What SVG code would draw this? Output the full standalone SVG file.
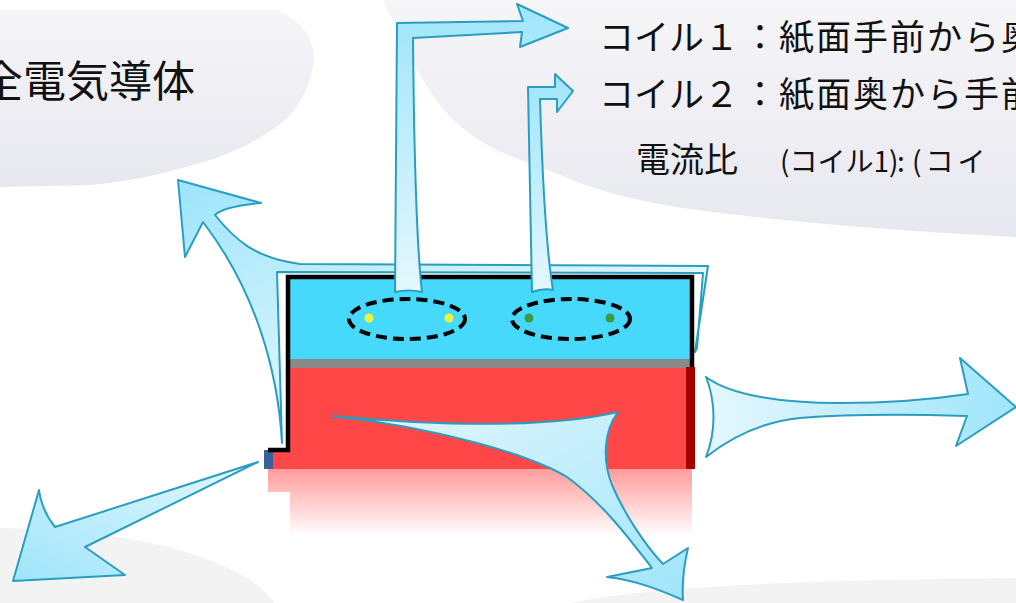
<svg xmlns="http://www.w3.org/2000/svg" width="1016" height="603" viewBox="0 0 1016 603">
  <defs>
    <linearGradient id="blobFill" x1="0" y1="0" x2="0" y2="1">
      <stop offset="0" stop-color="#f6f6f8"/>
      <stop offset="1" stop-color="#e7e7ef"/>
    </linearGradient>
    <linearGradient id="flowUp" x1="0" y1="1" x2="0" y2="0">
      <stop offset="0" stop-color="#e4f7fd"/>
      <stop offset="1" stop-color="#a0e5fb"/>
    </linearGradient>
    <linearGradient id="flowRight" x1="0" y1="0" x2="1" y2="0">
      <stop offset="0" stop-color="#e4f7fd"/>
      <stop offset="1" stop-color="#a0e5fb"/>
    </linearGradient>
    <linearGradient id="flowDownRight" x1="0" y1="0" x2="1" y2="1">
      <stop offset="0" stop-color="#e4f7fd"/>
      <stop offset="1" stop-color="#a0e5fb"/>
    </linearGradient>
    <linearGradient id="flowDownLeft" x1="1" y1="0" x2="0" y2="1">
      <stop offset="0" stop-color="#e4f7fd"/>
      <stop offset="1" stop-color="#a0e5fb"/>
    </linearGradient>
    <linearGradient id="flowUpLeft" gradientUnits="userSpaceOnUse" x1="282" y1="440" x2="185" y2="190">
      <stop offset="0" stop-color="#e4f7fd"/>
      <stop offset="1" stop-color="#a0e5fb"/>
    </linearGradient>
    <linearGradient id="fade" x1="0" y1="0" x2="0" y2="1">
      <stop offset="0" stop-color="#ff9c9c"/>
      <stop offset="1" stop-color="#ffffff"/>
    </linearGradient>
    <style>
      .blob { fill: url(#blobFill); }
      .floor { fill: #f3f3f3; }
      .flow { stroke: #2a9ebf; stroke-width: 2; stroke-linejoin: round; }
      .coil { fill: none; stroke: #000; stroke-width: 4; stroke-dasharray: 11 6; }
      .label { font-family: "Noto Sans CJK JP", "Noto Sans", sans-serif; fill: #111; }
    </style>
  </defs>

  <rect width="1016" height="603" fill="#ffffff"/>

  <!-- background callout shapes -->
  <g id="backdrop">
    <path class="blob" d="M0,10 H278 C305,22 318,45 313,67 C306,100 290,120 267,133 C245,148 220,157 200,163 C160,175 125,182 90,185 L0,187 Z"/>
    <path class="blob" d="M383,0 C395,25 402,45 413,63 C427,88 440,108 457,123 C475,140 495,150 513,157 C530,164 545,169 553,172 C565,177 575,181 580,183 C620,198 670,207 720,213 C820,225 920,232 1016,237 V0 Z"/>
    <ellipse class="floor" cx="0" cy="625" rx="282" ry="97"/>
    <path class="floor" d="M570,603 C640,588 780,580 1016,578 V603 Z"/>
  </g>

  <!-- labels -->
  <g id="conductor-label">
    <text class="label" x="-20" y="97" font-size="43">全電気導体</text>
  </g>
  <g id="coil-legend">
    <text class="label" x="599" y="50" font-size="35">コイル１<tspan x="760" text-anchor="middle">：</tspan><tspan x="779" letter-spacing="2">紙面手前から奥</tspan></text>
    <text class="label" x="599" y="107" font-size="35">コイル２<tspan x="760" text-anchor="middle">：</tspan><tspan x="779" letter-spacing="2">紙面奥から手前</tspan></text>
    <text class="label" x="636" y="172" font-size="34">電流比<tspan x="780" font-size="28">(コイル1)</tspan><tspan x="897" font-size="28">:</tspan><tspan x="912" font-size="28" letter-spacing="4">(コイ</tspan></text>
  </g>

  <!-- field flows -->
  <g id="connectors">
    <!-- flow wrapping the conductor and leaving to the upper left -->
    <path class="flow" fill="url(#flowUpLeft)" d="M178,180 L261,203 C240,205 222,208 215,215 C235,240 255,258 300,264 L708,266 L695,352 L697,348 L703,273 L277,272 L282,443 C278,370 255,290 203,222 L185,257 Z"/>
  </g>

  <!-- conductor block -->
  <g id="block">
    <path d="M292,469 H692 V536 H290 V492 H268 V469 Z" fill="url(#fade)"/>
    <rect x="288" y="277" width="404" height="82" fill="#47d9fc"/>
    <rect x="288" y="359" width="404" height="9" fill="#8a8a8a"/>
    <path d="M288,368 H692 V469 H270 V451 H288 Z" fill="#ff4747"/>
    <rect x="264" y="450" width="9" height="19" fill="#3a6099"/>
    <rect x="686" y="367" width="9" height="102" fill="#a50000"/>
    <path d="M268,450 H288 V277 H692 V367" fill="none" stroke="#000" stroke-width="4.5"/>
  </g>

  <g id="coil-1">
    <ellipse class="coil" cx="407" cy="319" rx="58" ry="20"/>
    <circle cx="369" cy="318" r="4.5" fill="#e9f53f"/>
    <circle cx="449" cy="318" r="4.5" fill="#e9f53f"/>
  </g>
  <g id="coil-2">
    <ellipse class="coil" cx="571" cy="319" rx="59" ry="20"/>
    <circle cx="529" cy="318" r="4.5" fill="#3d9b3d"/>
    <circle cx="610" cy="318" r="4.5" fill="#3d9b3d"/>
  </g>

  <g id="flows">
    <!-- coil 1 pointer -->
    <path class="flow" fill="url(#flowUp)" d="M395,292 L397,23 L523,21 L517,4 L568,28 L520,47 L522,32 L413,38 C414,150 416,240 422,292 Q408,289 395,292 Z"/>
    <!-- coil 2 pointer -->
    <path class="flow" fill="url(#flowUp)" d="M532,292 L528,87 L555,87 L555,74 L573,91 L557,112 L557,99 L540,99 C543,200 548,260 553,290 Q543,288 532,292 Z"/>
    <!-- flow to the right -->
    <path class="flow" fill="url(#flowRight)" d="M706,377 C730,395 780,403 840,403 C890,403 935,399 968,394 L960,358 L1016,407 L956,446 L967,416 C900,414 850,414 800,418 C760,422 730,438 706,457 C716,432 716,402 706,377 Z"/>
    <!-- flow down and to the right -->
    <path class="flow" fill="url(#flowDownRight)" d="M332,416 C420,424 540,430 618,412 C604,430 602,460 612,485 C625,515 645,545 663,564 L688,548 C684,565 682,585 683,600 C660,590 635,580 607,577 L652,568 C630,540 605,505 567,477 C530,455 440,428 332,416 Z"/>
    <!-- flow down and to the left -->
    <path class="flow" fill="url(#flowDownLeft)" d="M258,462 L55,527 C45,515 40,500 39,490 L13,581 Q70,578 125,575 L85,547 Z"/>
  </g>
</svg>
